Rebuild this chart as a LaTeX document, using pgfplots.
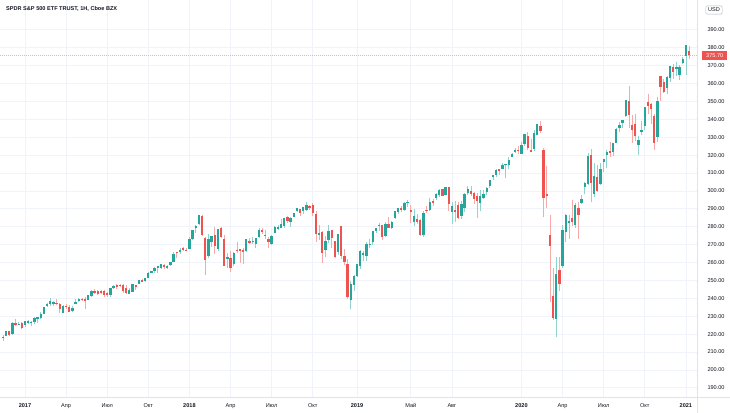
\documentclass[border=0pt]{standalone}
\usepackage{pgfplots}
\pgfplotsset{compat=1.18}
\usepackage{pgfplotstable}
\usepackage{fontspec}
\setmainfont{Liberation Sans}
\definecolor{tvgreen}{HTML}{26A69A}
\definecolor{tvred}{HTML}{EF5350}
\definecolor{gridc}{HTML}{F0F3FA}
\definecolor{textc}{HTML}{131722}
\definecolor{axisc}{HTML}{E0E3EB}
\colorlet{tvgreenw}{tvgreen!50!white}
\colorlet{tvredw}{tvred!50!white}

% weekly candles, w = weeks since 2017-01-02
\pgfplotstableread{
w O H L C
-7 217.8 219.3 216.3 218.5
-6 219.2 221.8 219.1 221.5
-4 220.0 226.5 219.7 226.0
-2 225.3 226.8 224.9 225.7
0 225.0 227.4 223.9 227.2
1 226.9 227.8 225.9 227.0
2 226.3 227.1 224.7 226.7
3 226.7 229.7 225.8 229.2
4 228.2 229.3 226.1 229.3
5 229.2 232.2 228.5 231.5
6 231.5 235.2 231.3 235.1
7 235.5 237.3 235.3 236.7
8 236.6 240.3 235.6 238.4
9 237.5 238.5 235.8 237.7
12 231.9 236.5 231.6 235.7
15 233.1 235.7 232.5 234.6
16 237.2 239.5 236.8 238.1
17 238.7 239.9 237.7 239.7
20 239.2 241.7 238.8 241.7
21 241.3 244.4 240.8 244.2
27 241.9 246.0 240.8 246.0
28 245.6 247.3 245.0 246.9
33 242.6 245.6 242.6 244.6
34 243.7 247.8 243.4 247.8
36 248.0 250.1 247.9 250.1
38 249.6 251.3 248.9 251.2
39 251.5 254.7 251.4 254.4
40 254.7 255.4 254.2 254.9
41 255.2 257.6 254.4 257.1
42 257.5 257.9 254.4 257.7
43 257.2 259.3 256.3 259.1
45 257.3 258.6 256.4 257.9
46 258.6 260.4 258.2 260.4
47 260.4 266.1 260.0 264.5
49 265.6 268.0 264.6 267.2
52 267.8 274.0 267.4 273.4
53 273.3 278.0 272.7 277.9
54 279.4 281.0 276.2 280.4
55 281.3 286.6 281.0 286.6
58 263.8 275.9 262.7 273.1
59 271.7 275.0 268.8 274.7
61 267.5 278.9 266.6 278.9
64 262.1 265.4 256.9 263.2
66 259.0 266.0 258.0 265.2
70 266.6 273.0 265.9 272.9
72 271.5 274.0 270.5 272.1
73 270.4 273.7 267.9 273.6
74 274.5 279.5 273.7 278.2
78 270.5 275.1 269.5 275.0
79 276.6 280.3 276.3 279.6
80 279.3 281.2 278.4 279.7
81 279.5 284.4 279.2 281.4
82 280.4 285.0 279.3 285.0
84 282.4 285.6 280.0 285.1
85 285.6 287.7 285.2 287.5
86 288.9 290.4 288.3 290.3
88 288.7 291.0 287.3 290.9
89 289.6 293.9 288.8 292.0
93 275.6 281.2 272.6 276.3
95 267.0 275.0 263.2 271.9
96 272.4 281.2 270.9 277.8
99 265.8 276.0 264.3 275.7
103 239.0 249.8 234.3 247.8
104 247.6 253.1 244.0 252.4
105 252.7 259.2 251.8 259.0
106 257.8 266.9 256.5 266.5
107 264.8 266.7 260.7 265.1
108 263.4 271.2 260.9 270.1
109 270.1 273.4 268.0 270.5
110 271.2 277.4 269.6 277.4
111 277.4 279.4 276.7 279.3
114 275.0 282.4 274.3 281.3
116 279.0 283.0 278.7 282.5
117 284.7 288.6 284.4 288.6
118 288.1 290.5 287.0 290.2
120 289.2 294.0 289.0 293.4
121 293.5 294.9 290.8 294.0
123 282.4 290.0 280.4 285.8
126 275.3 289.0 274.0 287.7
128 289.5 296.3 288.9 294.0
130 295.9 299.0 295.0 298.5
131 297.6 301.1 296.7 300.7
133 297.9 302.2 297.6 302.0
135 288.1 293.6 281.7 291.6
138 286.1 294.1 284.1 292.5
139 290.6 298.8 288.0 298.0
140 298.6 302.5 297.7 301.1
144 293.3 300.4 288.6 297.0
145 296.3 300.6 295.3 298.0
146 299.4 302.0 297.5 301.6
147 302.9 306.2 301.7 306.1
148 307.6 309.0 306.1 309.0
149 308.8 312.0 307.6 311.8
151 312.5 315.5 312.3 314.3
152 314.6 315.3 307.1 314.9
153 314.4 319.0 312.5 317.3
154 319.2 320.9 318.7 320.7
155 321.6 323.8 321.1 322.9
157 320.5 327.5 320.4 325.7
158 326.4 332.0 325.2 332.0
161 323.4 334.2 322.3 332.2
162 331.2 337.6 331.0 337.6
168 228.2 263.3 218.3 253.4
170 257.8 281.2 257.0 278.2
171 277.1 287.3 271.4 286.6
172 282.6 286.8 273.0 283.0
174 280.7 293.0 279.0 292.4
176 293.0 297.9 292.8 295.4
177 301.9 305.0 298.0 304.3
178 303.6 321.3 303.2 319.3
180 298.0 315.6 296.7 308.6
182 304.0 315.7 303.2 312.2
183 316.4 318.0 310.7 317.6
184 320.1 323.0 312.6 321.7
186 321.6 326.6 319.6 326.5
187 327.0 334.9 326.6 334.6
188 335.0 338.3 332.9 336.8
189 337.9 339.6 335.2 339.5
190 342.1 350.7 341.4 350.6
194 325.7 330.9 319.8 328.7
195 333.1 338.9 331.2 333.8
196 336.1 347.0 333.9 346.9
200 330.2 352.2 327.2 350.2
203 357.3 364.2 354.4 363.7
204 362.8 369.9 360.6 369.9
206 368.6 371.9 364.2 369.2
207 365.0 370.4 362.0 369.0
208 371.7 374.7 370.8 373.9
209 375.3 381.5 364.8 381.3
}\upcandles

\pgfplotstableread{
w O H L C
-5 221.6 221.8 218.8 219.7
-3 226.4 228.3 224.7 225.0
-1 226.0 226.7 222.7 223.5
10 237.6 239.4 236.4 237.0
11 237.0 237.6 231.6 233.9
13 235.8 237.0 233.9 235.2
14 235.4 236.0 232.5 232.5
18 239.8 240.2 238.6 239.1
19 239.5 240.7 234.0 238.6
22 244.1 245.0 242.2 243.4
23 243.9 244.9 242.0 242.6
24 244.0 244.6 242.4 243.1
25 243.9 244.4 240.7 241.8
26 242.9 243.4 240.6 242.1
29 247.0 248.0 245.1 246.8
30 247.5 247.9 246.4 247.4
31 247.5 247.8 242.8 244.1
32 245.6 247.7 242.4 243.0
35 247.3 247.7 244.6 246.6
37 250.1 250.7 249.3 249.4
44 258.3 259.3 256.2 258.1
48 265.9 266.0 262.6 265.5
50 268.1 268.6 266.7 267.5
51 267.1 268.0 266.6 266.9
56 285.9 286.4 275.0 275.5
57 273.5 274.0 252.9 261.5
60 275.5 280.0 264.8 269.1
62 279.2 280.1 273.9 274.2
63 273.4 275.4 258.0 258.1
65 262.6 266.6 254.7 257.0
67 267.0 271.3 265.4 266.6
68 267.3 267.8 259.9 266.6
69 267.0 268.1 259.0 266.0
71 272.0 273.8 270.1 271.3
75 278.3 279.5 276.0 277.1
76 275.6 278.2 273.3 274.7
77 273.1 274.0 267.9 271.3
83 285.4 286.0 282.3 283.2
87 289.8 290.0 285.8 287.6
90 291.3 292.2 289.6 290.7
91 292.1 293.2 286.0 287.8
92 287.1 288.9 271.2 275.9
94 277.0 277.4 259.9 265.3
97 278.1 278.3 268.0 273.7
98 271.9 272.0 262.3 263.3
100 280.3 280.4 262.0 263.6
101 263.4 267.6 258.8 260.5
102 259.4 261.8 239.8 240.7
112 281.2 281.8 277.7 280.4
113 280.7 280.7 272.4 274.5
115 281.6 285.2 279.2 279.3
119 290.2 291.4 288.2 290.0
122 289.3 292.1 282.3 288.1
124 284.1 286.9 281.4 282.8
125 284.0 284.1 275.0 275.3
127 289.4 291.4 287.4 289.3
129 294.2 295.4 291.7 293.0
132 301.0 301.1 297.0 297.2
134 301.9 302.2 288.5 292.6
136 289.0 294.1 282.8 288.9
137 292.2 294.0 284.3 284.9
141 299.8 302.6 297.3 298.3
142 299.0 299.3 292.8 295.4
143 297.0 298.8 284.8 294.4
150 312.0 312.4 308.8 311.0
156 323.0 324.9 320.6 322.4
159 330.9 332.9 323.0 323.8
160 323.0 329.0 321.5 321.7
163 336.5 339.1 332.6 333.5
164 323.1 324.0 285.5 296.3
165 298.2 313.8 290.2 297.5
166 275.3 286.4 238.0 269.3
167 241.2 256.9 228.0 228.8
169 255.7 263.1 243.9 248.2
173 285.1 294.9 280.6 282.8
175 290.3 294.0 273.0 286.3
179 320.2 323.4 294.0 304.2
181 308.0 314.5 299.4 300.1
185 322.4 327.2 319.2 320.9
191 350.4 358.8 334.9 342.6
192 336.7 342.6 326.5 334.1
193 337.5 343.1 328.0 330.7
197 349.6 354.0 343.1 347.3
198 348.7 349.3 337.5 345.8
199 342.1 342.9 322.6 326.5
201 364.0 364.4 350.5 358.1
202 361.0 362.3 354.7 355.3
205 369.0 371.1 362.3 366.3
210 377.9 381.1 373.7 375.7
}\downcandles

\begin{document}
\begin{tikzpicture}
\path[use as bounding box] (0,0) rectangle (730bp,413bp);
\fill[white] (0,0) rectangle (730bp,413bp);
\begin{axis}[
  at={(0bp,16bp)}, anchor=south west,
  width=697bp, height=397bp, scale only axis,
  xmin=-7.906, xmax=212.52, ymin=184.86, ymax=406.65,
  axis line style={draw=none},
  major tick length=0pt,
  xtick={0,13,26,39,52,65,78,91,105,122,135,157,170,183,196,209},
  xticklabels={\textbf{2017},Апр,Июл,Окт,\textbf{2018},Апр,Июл,Окт,\textbf{2019},Май,Авг,\textbf{2020},Апр,Июл,Окт,\textbf{2021}},
  ytick={190,200,...,390},
  yticklabel pos=right,
  grid=major,
  major grid style={draw=gridc, line width=0.7bp},
  tick label style={font=\fontsize{5.6}{6.5}\selectfont, text=textc},
  xticklabel style={yshift=-3bp},
  yticklabel style={anchor=west, xshift=7bp},
  /pgf/number format/.cd, fixed, fixed zerofill, precision=2, assume math mode=true,
]
\addplot[tvred!45, line width=0.4bp, dash pattern=on 1bp off 1bp, forget plot] coordinates {(-8,375.7) (213,375.7)};
% wicks
\addplot[draw=none, mark=none, forget plot,
  error bars/.cd, y dir=both, y explicit, error mark=none,
  error bar style={draw=tvgreenw, line width=0.7bp}]
  table[x=w, y expr={(\thisrow{H}+\thisrow{L})/2}, y error expr={(\thisrow{H}-\thisrow{L})/2}] {\upcandles};
\addplot[draw=none, mark=none, forget plot,
  error bars/.cd, y dir=both, y explicit, error mark=none,
  error bar style={draw=tvredw, line width=0.7bp}]
  table[x=w, y expr={(\thisrow{H}+\thisrow{L})/2}, y error expr={(\thisrow{H}-\thisrow{L})/2}] {\downcandles};
% bodies
\addplot[draw=none, mark=none, forget plot,
  error bars/.cd, y dir=both, y explicit, error mark=none,
  error bar style={draw=tvgreen, line width=2.3bp}]
  table[x=w, y expr={(\thisrow{O}+\thisrow{C})/2}, y error expr={max(abs(\thisrow{C}-\thisrow{O})/2,0.25)}] {\upcandles};
\addplot[draw=none, mark=none, forget plot,
  error bars/.cd, y dir=both, y explicit, error mark=none,
  error bar style={draw=tvred, line width=2.3bp}]
  table[x=w, y expr={(\thisrow{O}+\thisrow{C})/2}, y error expr={max(abs(\thisrow{C}-\thisrow{O})/2,0.25)}] {\downcandles};
\coordinate (pl) at (axis cs:212.52,375.7);
\end{axis}
\draw[axisc, line width=0.6bp] (697bp,0) -- (697bp,413bp);
\draw[axisc, line width=0.6bp] (0,16bp) -- (730bp,16bp);
\node[fill=tvred, text=white, font=\fontsize{5.6}{6.5}\selectfont, inner xsep=4bp, inner ysep=2.4bp, anchor=west] at ([xshift=5bp]pl) {375.70};
\node[anchor=west, font=\bfseries\fontsize{5.6}{7}\selectfont, text=textc, inner sep=0pt] at (6bp,404bp) {SPDR S\&P 500 ETF TRUST, 1Н, Cboe BZX};
\node[draw=axisc!80!black, rounded corners=1.5bp, fill=white, font=\fontsize{5.6}{6.5}\selectfont, text=textc, inner xsep=2.4bp, inner ysep=2.2bp] at (714bp,403bp) {USD};
\end{tikzpicture}
\end{document}
